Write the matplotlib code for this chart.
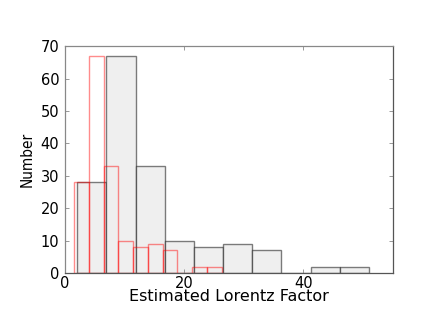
import numpy as np
import matplotlib
matplotlib.use('Agg')
from matplotlib import pyplot as plt

# counts per bin (same for both histograms)
counts = [28, 67, 33, 10, 8, 9, 7, 0, 2, 2]

# bin layout
gray_start = 2.07
gray_width = 4.89
red_start = 1.57
red_width = 2.47

gray_left = [gray_start + i*gray_width for i in range(len(counts))]
red_left = [red_start + i*red_width for i in range(len(counts))]

xticks = [0, 20, 40]
yticks = [0, 10, 20, 30, 40, 50, 60, 70]

plt.rcParams['font.family'] = ['DejaVu Sans']

fig = plt.figure(figsize=(4.36, 3.27), dpi=100)
ax = fig.add_axes([0.149, 0.165, 0.752, 0.694])

ax.bar(gray_left, counts, width=gray_width, align='edge',
       facecolor='#efefef', edgecolor=(0, 0, 0, 0.5), linewidth=1.0)
ax.bar(red_left, counts, width=red_width, align='edge',
       facecolor='none', edgecolor=(1, 0, 0, 0.45), linewidth=1.0)

ax.set_xlim(0, 55)
ax.set_ylim(0, 70)
ax.set_xticks(xticks)
ax.set_yticks(yticks)
ax.tick_params(direction='in', length=3, width=0.6, color='#888888',
               top=True, right=True, labelsize=10.5)
ax.tick_params(axis='x', pad=2)
ax.tick_params(axis='y', pad=4)

for s in ['top', 'left']:
    ax.spines[s].set_color('#888888')
for s in ['bottom', 'right']:
    ax.spines[s].set_color('#555555')
for s in ax.spines.values():
    s.set_linewidth(0.9)

ax.set_xlabel('Estimated Lorentz Factor', fontsize=11.5, labelpad=-1)
ax.set_ylabel('Number', fontsize=11, fontstretch='condensed', labelpad=4)

fig.savefig('out.png', dpi=100)
